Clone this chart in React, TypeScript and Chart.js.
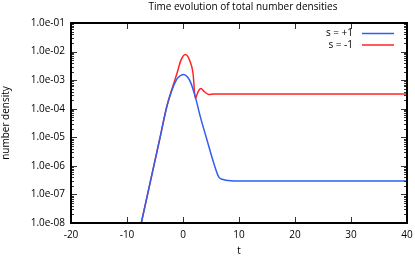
import React, { useEffect, useRef } from 'react';
import { Chart, registerables } from 'chart.js';

Chart.register(...registerables);

const chartTitle = 'Time evolution of total number densities';
const xAxisTitle = 't';
const yAxisTitle = 'number density';
const xTickValues = [-20, -10, 0, 10, 20, 30, 40];
const yTickValues = [1e-8, 1e-7, 1e-6, 1e-5, 1e-4, 1e-3, 1e-2, 1e-1];
const yTickLabels = ['1.0e-08', '1.0e-07', '1.0e-06', '1.0e-05', '1.0e-04', '1.0e-03', '1.0e-02', '1.0e-01'];
const yMinorFactors = [2, 3, 4, 5, 6, 7, 8, 9];

const blueLabel = 's = +1';
const blueT = [-8, -7.45, -4.2, -2.9, -2.0, -1.2, -0.8, -0.3, 0.1, 0.8, 1.3, 2.2, 3.1, 4.3, 5.5, 6.4, 7.0, 8.5, 10, 20, 30, 40];
const blueN = [3.3e-9, 1e-8, 7.9e-6, 1.17e-4, 4.3e-4, 1.0e-3, 1.26e-3, 1.5e-3, 1.58e-3, 1.3e-3, 8.9e-4, 2.6e-4, 5.2e-5, 7.9e-6, 1.23e-6, 4.0e-7, 3.4e-7, 3.0e-7, 2.95e-7, 2.95e-7, 2.95e-7, 2.95e-7];

const redLabel = 's = -1';
const redT = [-8, -7.45, -4.2, -2.9, -2.0, -1.07, -0.36, 0.4, 1.18, 1.79, 2.2, 2.7, 3.2, 3.8, 4.6, 5.5, 10, 20, 30, 40];
const redN = [3.2e-9, 1e-8, 7.9e-6, 1.17e-4, 4.7e-4, 1.74e-3, 5.0e-3, 7.9e-3, 5.0e-3, 1.74e-3, 2.3e-4, 4.0e-4, 5.1e-4, 4.0e-4, 3.16e-4, 3.3e-4, 3.3e-4, 3.3e-4, 3.3e-4, 3.3e-4];

const blueColor = '#2f5ff0';
const redColor = '#ff2424';
const FONT = 'Open Sans';

const minorTicks = yTickValues.slice(0, -1).flatMap((v) => yMinorFactors.map((k) => v * k));

const decorPlugin = {
  id: 'decor',
  afterDraw(chart: any) {
    const ctx: CanvasRenderingContext2D = chart.ctx;
    const xs = chart.scales.x;
    const ys = chart.scales.y;
    const L = Math.round(xs.left);
    const R = Math.round(xs.right);
    const T = Math.round(ys.top);
    const B = Math.round(ys.bottom);
    ctx.save();
    // inward tick marks
    ctx.fillStyle = '#333333';
    xTickValues.forEach((v) => {
      const px = Math.round(xs.getPixelForValue(v));
      ctx.fillRect(px, B - 6, 1, 6);
      ctx.fillRect(px, T, 1, 6);
    });
    yTickValues.forEach((v) => {
      const py = Math.round(ys.getPixelForValue(v));
      ctx.fillRect(L, py, 6, 1);
      ctx.fillRect(R - 6, py, 6, 1);
    });
    minorTicks.forEach((v) => {
      const my = Math.round(ys.getPixelForValue(v));
      ctx.fillRect(L, my, 3, 1);
      ctx.fillRect(R - 3, my, 3, 1);
    });
    // frame
    ctx.fillStyle = '#000000';
    ctx.fillRect(L - 1, T - 1, R - L + 2, 2);
    ctx.fillRect(L - 1, B - 1, R - L + 2, 2);
    ctx.fillRect(L - 1, T - 1, 2, B - T + 2);
    ctx.fillRect(R - 1, T - 1, 2, B - T + 2);
    // title and legend
    ctx.font = `10px "${FONT}"`;
    ctx.textAlign = 'center';
    ctx.textBaseline = 'middle';
    ctx.fillText(chartTitle, 243, 7);
    const items = [
      { label: blueLabel, color: blueColor },
      { label: redLabel, color: redColor },
    ];
    items.forEach((it, i) => {
      const y = T + 10.5 + i * 11.5;
      ctx.textAlign = 'right';
      ctx.fillStyle = '#000000';
      ctx.fillText(it.label, 353, y);
      ctx.strokeStyle = it.color;
      ctx.lineWidth = 1.5;
      ctx.beginPath();
      ctx.moveTo(362, y);
      ctx.lineTo(394, y);
      ctx.stroke();
    });
    ctx.restore();
  },
};

export default function App() {
  const ref = useRef<HTMLCanvasElement>(null);
  useEffect(() => {
    document.body.style.margin = '0';
    if (!ref.current) return;
    const chart = new Chart(ref.current, {
      type: 'line',
      data: {
        datasets: [
          { label: blueLabel, data: blueT.map((t, i) => ({ x: t, y: blueN[i] })), borderColor: blueColor, borderWidth: 1.5, pointRadius: 0, cubicInterpolationMode: 'monotone', fill: false },
          { label: redLabel, data: redT.map((t, i) => ({ x: t, y: redN[i] })), borderColor: redColor, borderWidth: 1.5, pointRadius: 0, cubicInterpolationMode: 'monotone', fill: false },
        ],
      },
      options: {
        responsive: false,
        animation: false,
        layout: { padding: { top: 23, right: 8, left: 0, bottom: 0 } },
        plugins: { legend: { display: false }, tooltip: { enabled: false }, title: { display: false } },
        scales: {
          x: {
            type: 'linear',
            min: -20,
            max: 40,
            grid: { display: false, drawTicks: false },
            border: { display: false },
            afterBuildTicks: (s: any) => { s.ticks = xTickValues.map((v) => ({ value: v })); },
            ticks: { padding: 6, color: '#000', font: { family: FONT, size: 10 }, maxRotation: 0, autoSkip: false },
            title: { display: true, text: xAxisTitle, color: '#000', font: { family: FONT, size: 10 }, padding: { top: 0, bottom: 1 } },
            afterFit: (s: any) => { s.height = 35; s.paddingLeft = 0; s.paddingRight = 0; },
          },
          y: {
            type: 'logarithmic',
            min: 1e-8,
            max: 1e-1,
            grid: { display: false, drawTicks: false },
            border: { display: false },
            afterBuildTicks: (s: any) => { s.ticks = yTickValues.map((v) => ({ value: v })); },
            ticks: {
              padding: 6,
              autoSkip: false,
              color: '#000',
              font: { family: FONT, size: 10 },
              callback: (v: any) => {
                const i = yTickValues.findIndex((t) => Math.abs(Math.log10(t) - Math.log10(v)) < 1e-6);
                return i >= 0 ? yTickLabels[i] : '';
              },
            },
            title: { display: true, text: yAxisTitle, color: '#000', font: { family: FONT, size: 10 }, padding: { top: 0, bottom: 0 } },
            afterFit: (s: any) => { s.width = 71; s.paddingTop = 0; s.paddingBottom = 0; },
          },
        },
      },
      plugins: [decorPlugin],
    });
    return () => chart.destroy();
  }, []);
  return (
    <div style={{ width: 415, height: 258 }}>
      <canvas ref={ref} width={415} height={258} />
    </div>
  );
}
